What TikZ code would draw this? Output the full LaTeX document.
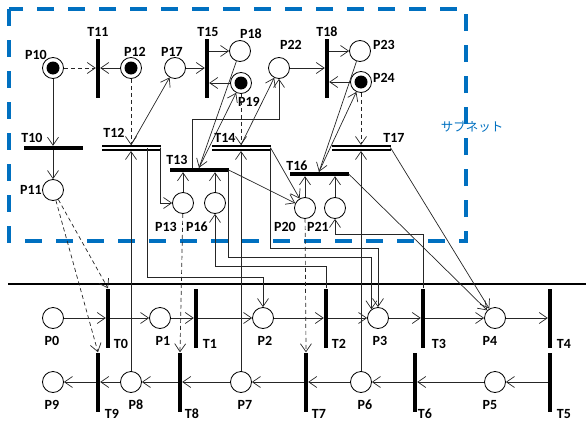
\documentclass[tikz,border=0pt]{standalone}
\usepackage{fontspec}
\setsansfont{Carlito}
\newfontfamily\jpfont{Noto Sans CJK JP}
\usetikzlibrary{arrows.meta}
\definecolor{subblue}{RGB}{0,112,192}

\begin{document}
\begin{tikzpicture}[
  x=1pt, y=-1pt,
  font=\sffamily\bfseries\fontsize{14}{14}\selectfont,
  place/.style={circle, draw=black, line width=0.8pt, fill=white, minimum size=21pt, inner sep=0pt},
  marked/.style={place, path picture={\fill[black] (path picture bounding box.center) circle (6.5pt);}},
  vtrans/.style={fill=black, minimum width=4pt, minimum height=59pt, inner sep=0pt},
  htrans/.style={fill=black, minimum width=59pt, minimum height=4pt, inner sep=0pt},
  dtrans/.style={htrans, minimum height=5.5pt, path picture={\draw[white, line width=1.6pt] (path picture bounding box.west) -- (path picture bounding box.east);}},
  flow/.style={-{Straight Barb[length=8pt,width=11pt]}, line width=0.7pt, draw=black!85},
  testflow/.style={flow, dash pattern=on 4pt off 3pt},
  lbl/.style={inner sep=0pt},
  subnet/.style={draw=subblue, line width=3.5pt, dash pattern=on 17pt off 14pt}
]
\useasboundingbox (0,0) rectangle (586,423);

% subnet frame and split line
\draw[subnet] (9,9) rectangle (466,241);
\node[text=subblue, font=\jpfont\fontsize{12.5}{12.5}\selectfont] (subname) at (472,127) {サブネット};
\draw[line width=2pt] (8,284) -- (586,284);

% places
\foreach \n/\x/\y in {P0/53/318, P1/160/318, P2/263/318, P3/378/318, P4/495/318,
  P5/495/382, P6/361/382, P7/241/382, P8/131/382, P9/53/382,
  P11/53/190, P13/183/203, P16/215/203, P17/175/68, P18/240/51,
  P20/305/208, P21/335/208, P22/279/68, P23/360/51}
  \node[place] (\n) at (\x,\y) {};
\foreach \n/\x/\y in {P10/53/68, P12/131/68, P19/241/83, P24/361/82}
  \node[marked] (\n) at (\x,\y) {};

% transitions
\foreach \n/\x/\y in {T0/108/318, T1/196/318, T2/326/318, T3/423/318, T4/550/318,
  T5/550/382, T6/415/382, T7/306/382, T8/180/382, T9/98/382,
  T11/98/68, T15/207/68, T18/327/68}
  \node[vtrans] (\n) at (\x,\y) {};
\foreach \n/\x/\y in {T10/53/148, T13/199/170, T16/319/174}
  \node[htrans] (\n) at (\x,\y) {};
\foreach \n/\x/\y in {T12/131/148, T14/241/148, T17/361/148}
  \node[dtrans] (\n) at (\x,\y) {};

% labels
\foreach \n/\x/\y in {P0/52/341, P1/163/341, P2/265/341, P3/380/341, P4/490/341,
  P5/490/405, P6/365/405, P7/245/405, P8/136/405, P9/52/405,
  P10/36/55, P11/31/190, P12/135/52, P13/166/227, P16/197/227, P17/172/52,
  P18/251/34, P19/249/102, P20/285/227, P21/318/227, P22/291/45, P23/384/45, P24/384/78,
  T0/121/344, T1/210/344, T2/339/344, T3/439/344, T4/564/344,
  T5/564/414, T6/425/414, T7/319/414, T8/192/414, T9/112/414,
  T10/32/138, T11/98/32, T12/114/133, T13/177/160, T14/225/138,
  T15/208/32, T16/297/166, T17/394/138, T18/327/32}
  \node[lbl] (l\n) at (\x,\y) {\n};

% lower net
\foreach \a/\b in {P0/T0, T0/P1, P1/T1, T1/P2, P2/T2, T2/P3, P3/T3, T3/P4, P4/T4,
  T5/P5, P5/T6, T6/P6, P6/T7, T7/P7, P7/T8, T8/P8, P8/T9, T9/P9}
  \draw[flow] (\a) -- (\b);

% subnet, left part
\draw[flow] (P10) -- (T10);
\draw[flow] (T10) -- (P11);
\draw[testflow] (P10) -- (T11);
\draw[flow] (P12) -- (T11);
\draw[testflow] (P12) -- (T12);
\draw[flow] (P8) -- (T12);
\draw[flow] (T12.north) -- (P17);
\draw[flow] (T12.east) |- (P13);
\draw[flow] ([xshift=-13pt]T12.east) -- ++(0,129) -| (P2);
\draw[flow] (P17) -- (T15);
\draw[flow] (T15.east |- P18) -- (P18);
\draw[flow] (P19) -- (T15.east |- P19);

% T13 and T14
\draw[flow] (P18) -- (T13.north);
\draw[flow] (T13.north) -- (P19);
\draw[flow] ([xshift=-7pt]T13.north) -- ++(0,-48) -| (P22);
\draw[flow] (P13) -- (P13 |- T13.south);
\draw[flow] (P16) -- (P16 |- T13.south);
\draw[flow] (T13.east) -- (P20);
\draw[flow] (T13.east) -- ++(0,87) -| (P3.127);
\draw[flow] (P7) -- (T14);
\draw[testflow] (P19) -- (T14);
\draw[flow] (T14.north) -- (P22);
\draw[flow] (T14.east) -- (P20);
\draw[flow] (T14.east) -- ++(0,100) -| (P3);
\draw[flow] (T2.north) -- ++(0,-22) -| (P16);

% subnet, right part
\draw[flow] (P22) -- (T18);
\draw[flow] (T18.east |- P23) -- (P23);
\draw[flow] (P24) -- (T18.east |- P24);
\draw[flow] (P23) -- (T16.north);
\draw[flow] (T16.north) -- (P24);
\draw[flow] (P20) -- (P20 |- T16.south);
\draw[flow] (P21) -- (P21 |- T16.south);
\draw[flow] (T16.east) -- (P4);
\draw[flow] (T17.east) -- (P4);
\draw[testflow] (P24) -- (T17);
\draw[flow] (P6) -- (T17);
\draw[flow] (T3.north) -- ++(0,-54) -| (P21);

% dashed arcs into the lower net
\draw[testflow] (P11) -- (T0.north);
\draw[testflow] (P11) -- (T9.north);
\draw[testflow] (P13) -- (T8.north);
\draw[testflow] (P20) -- (T7.north);

\end{tikzpicture}
\end{document}
